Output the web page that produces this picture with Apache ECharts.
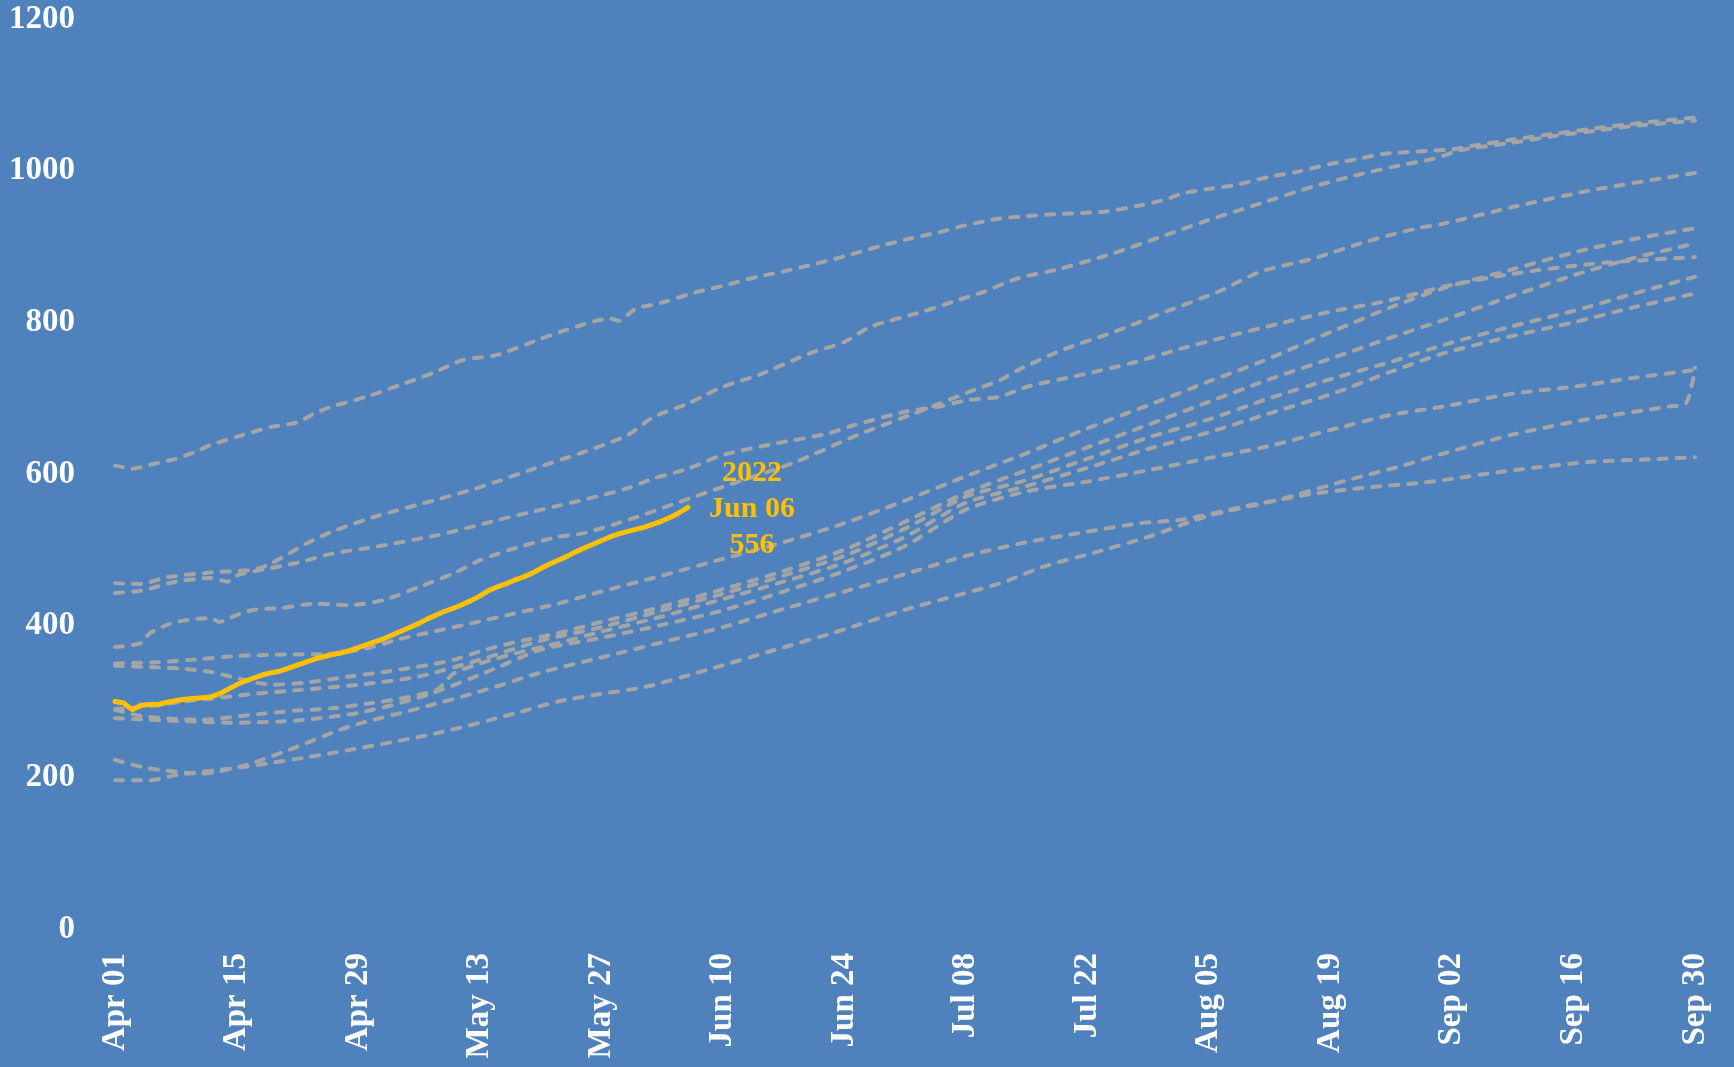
<!DOCTYPE html>
<html>
<head>
<meta charset="utf-8">
<script src="https://cdn.jsdelivr.net/npm/echarts@6/dist/echarts.min.js"></script>
<style>
html,body{margin:0;padding:0;background:#4F81BD;}
#chart{width:1734px;height:1067px;}
</style>
</head>
<body>
<div id="chart"></div>
<script>
// x values are days since Apr 01
const tickLabels = ['Apr 01','Apr 15','Apr 29','May 13','May 27','Jun 10','Jun 24','Jul 08','Jul 22','Aug 05','Aug 19','Sep 02','Sep 16','Sep 30'];
const monthNames = ['Jan','Feb','Mar','Apr','May','Jun','Jul','Aug','Sep','Oct','Nov','Dec'];
const currentYear = '2022';

// past years (grey dashed), [day, value]
const past1 = [[0,611],[2,607],[4,612],[7,620],[9,628],[11,638],[14,649],[18,662],[21,668],[23,680],[25,689],[29,702],[33,718],[37,735],[40,750],[44,757],[49,778],[52,790],[57,805],[58,802],[60,818],[63,826],[67,840],[70,848],[74,860],[77,867],[81,878],[84,887],[88,900],[91,909],[95,919],[98,928],[102,937],[105,940],[109,943],[114,946],[118,954],[121,962],[123,970],[126,976],[129,981],[133,992],[136,998],[140,1009],[143,1015],[146,1022],[151,1026],[154,1028],[157,1034],[161,1041],[166,1049],[170,1055],[175,1062],[182,1070]];
const past2 = [[0,456],[3,455],[6,464],[11,470],[16,474],[18,482],[22,508],[25,524],[30,544],[37,566],[41,579],[44,590],[48,606],[54,629],[59,651],[62,675],[66,693],[70,715],[74,730],[80,759],[84,774],[87,794],[93,814],[97,829],[100,840],[104,858],[109,871],[115,891],[121,915],[126,935],[132,957],[138,979],[143,994],[148,1007],[152,1016],[155,1027],[161,1037],[166,1046],[170,1052],[175,1059],[182,1066]];
const past3 = [[0,443],[3,446],[5,452],[7,458],[11,463],[13,458],[14,466],[17,474],[21,483],[25,495],[30,504],[37,519],[41,530],[44,539],[48,550],[51,558],[54,566],[59,581],[62,594],[66,607],[70,625],[76,640],[82,653],[85,664],[91,682],[95,689],[98,697],[102,702],[105,715],[111,730],[117,746],[123,766],[128,781],[134,798],[140,814],[146,827],[150,838],[153,847],[161,864],[170,877],[176,882],[182,886]];
const past4 = [[0,372],[3,377],[4,390],[6,401],[8,407],[11,410],[12,405],[14,414],[16,421],[19,423],[23,429],[27,427],[31,434],[35,451],[39,469],[42,486],[46,502],[51,517],[54,522],[59,539],[65,563],[70,583],[78,614],[85,649],[87,658],[93,684],[99,711],[102,724],[104,737],[109,763],[115,787],[121,814],[127,840],[132,867],[138,884],[144,906],[150,924],[153,930],[161,952],[170,974],[182,997]];
const past5 = [[0,350],[5,352],[10,356],[14,360],[20,362],[25,363],[29,370],[33,383],[37,393],[41,403],[46,416],[51,429],[56,445],[63,466],[70,488],[77,510],[84,535],[91,565],[98,597],[104,623],[112,660],[120,695],[126,722],[132,748],[140,787],[147,820],[153,845],[161,870],[168,892],[175,910],[182,924]];
const past6 = [[0,347],[5,345],[8,343],[11,339],[14,331],[18,322],[22,325],[27,333],[31,339],[35,346],[39,355],[42,366],[46,378],[51,390],[56,405],[63,425],[70,448],[77,472],[84,500],[91,537],[98,575],[105,605],[112,635],[119,665],[126,695],[133,725],[140,752],[147,780],[153,803],[161,835],[168,862],[175,885],[182,904]];
const past7 = [[0,290],[4,294],[8,300],[12,305],[16,310],[21,315],[28,322],[35,333],[42,355],[49,380],[56,398],[63,420],[70,442],[77,466],[84,492],[91,528],[98,570],[105,592],[112,620],[119,648],[126,672],[133,700],[140,725],[147,748],[153,770],[161,795],[168,815],[175,838],[182,860]];
const past8 = [[0,289],[3,281],[7,277],[10,276],[14,280],[17,284],[21,288],[25,291],[29,297],[33,304],[37,315],[38,325],[39,337],[42,350],[46,363],[51,377],[56,392],[63,412],[70,435],[77,458],[84,483],[91,517],[98,562],[105,584],[112,608],[119,633],[126,655],[133,680],[140,705],[147,735],[153,759],[161,782],[168,800],[175,820],[182,838]];
const past9 = [[0,278],[4,276],[8,274],[14,272],[21,275],[28,285],[35,305],[42,335],[49,368],[56,384],[63,401],[70,420],[77,445],[84,472],[91,505],[98,553],[105,577],[112,590],[119,605],[126,621],[133,637],[140,658],[147,678],[153,689],[161,706],[168,715],[175,727],[182,737]];
const past10 = [[0,223],[3,214],[5,210],[10,205],[15,216],[20,236],[27,267],[35,291],[42,313],[49,338],[56,358],[63,378],[70,398],[77,422],[84,445],[91,468],[98,492],[105,510],[111,522],[118,535],[123,540],[130,557],[138,574],[144,582],[150,588],[153,592],[161,605],[170,616],[176,619],[182,622]];
const past11 = [[0,196],[4,196],[7,203],[15,214],[25,232],[37,258],[46,284],[51,300],[56,310],[61,319],[68,341],[76,368],[84,395],[91,421],[97,440],[102,456],[107,478],[113,497],[119,517],[126,545],[134,566],[142,592],[148,610],[153,627],[161,652],[170,673],[179,689],[181,694],[182,740]];
const pastSeries = [past1,past2,past3,past4,past5,past6,past7,past8,past9,past10,past11];

// current year, daily from Apr 01
const current = [300,298,289,295,296,296,299,301,303,304,305,306,310,316,322,327,331,335,338,340,344,348,352,356,359,362,364,367,371,375,379,383,388,393,398,403,409,414,419,423,428,433,439,446,451,455,460,464,469,475,481,486,491,497,502,507,512,517,521,524,527,530,534,538,543,549,556];

function dayLabel(d){
  const dt = new Date(2022, 3, 1 + d);
  const dd = String(dt.getDate()).padStart(2,'0');
  return monthNames[dt.getMonth()] + ' ' + dd;
}

const font = "'Liberation Serif', 'DejaVu Serif', serif";
const series = pastSeries.map((s, i) => ({
  type: 'line',
  name: 'past' + (i+1),
  data: s,
  showSymbol: false,
  smooth: 0.25,
  lineStyle: {color: '#A5A5A5', width: 4, type: [8, 10], cap: 'round'},
  z: 2
}));
series.push({
  type: 'line',
  name: currentYear,
  data: current.map((v, i) => [i, v]),
  showSymbol: false,
  lineStyle: {color: '#FFC000', width: 5, cap: 'round'},
  z: 5,
  endLabel: {
    show: true,
    formatter: (p) => currentYear + '\n' + dayLabel(p.value[0]) + '\n' + p.value[1],
    color: '#FFC000',
    fontFamily: font,
    fontWeight: 'bold',
    fontSize: 30,
    lineHeight: 36,
    align: 'center',
    verticalAlign: 'middle',
    distance: 0,
    offset: [64, 2]
  }
});

const chart = echarts.init(document.getElementById('chart'));
chart.setOption({
  backgroundColor: '#4F81BD',
  animation: false,
  grid: {left: 115, right: 39, top: 19, bottom: 138, containLabel: false},
  xAxis: {
    type: 'value', min: 0, max: 182, interval: 14,
    axisLine: {show: false}, axisTick: {show: false}, splitLine: {show: false},
    axisLabel: {
      rotate: 90, margin: 24, color: '#FFFFFF', fontFamily: font, fontWeight: 'bold', fontSize: 33,
      formatter: (v) => tickLabels[Math.round(v / 14)]
    }
  },
  yAxis: {
    type: 'value', min: 0, max: 1200, interval: 200,
    axisLine: {show: false}, axisTick: {show: false}, splitLine: {show: false},
    axisLabel: {margin: 40, color: '#FFFFFF', fontFamily: font, fontWeight: 'bold', fontSize: 33,
      formatter: (v) => String(v)}
  },
  series: series
});
</script>
</body>
</html>
